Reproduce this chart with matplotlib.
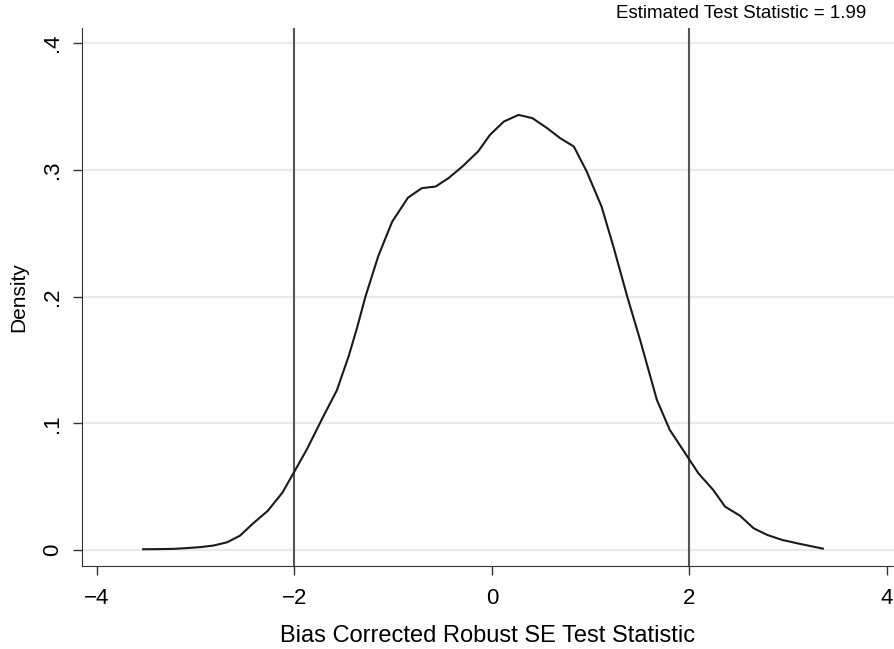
import matplotlib
matplotlib.use("Agg")
import matplotlib.pyplot as plt

plt.rcParams['font.family'] = ['Liberation Sans', 'DejaVu Sans']

# kernel density
stat_x = [-3.53, -3.39, -3.23, -3.09, -2.95, -2.82, -2.68, -2.55, -2.42, -2.27,
          -2.12, -2.00, -1.87, -1.71, -1.57, -1.45, -1.37, -1.28, -1.15, -1.01,
          -0.85, -0.71, -0.57, -0.44, -0.30, -0.14, -0.02, 0.12, 0.27, 0.41,
          0.56, 0.69, 0.83, 0.96, 1.11, 1.23, 1.37, 1.50, 1.67, 1.80,
          1.99, 2.09, 2.24, 2.36, 2.51, 2.65, 2.79, 2.94, 3.12, 3.35]
density = [0.0008, 0.0009, 0.0011, 0.0017, 0.0025, 0.0037, 0.0063, 0.0115, 0.021, 0.031,
           0.0455, 0.062, 0.080, 0.105, 0.126, 0.153, 0.174, 0.200, 0.232, 0.259,
           0.278, 0.2855, 0.2868, 0.2934, 0.3025, 0.3144, 0.3275, 0.338, 0.3433, 0.3407,
           0.3328, 0.325, 0.3183, 0.2986, 0.271, 0.2394, 0.200, 0.1659, 0.1185, 0.095,
           0.0725, 0.0607, 0.0476, 0.0344, 0.0273, 0.0173, 0.012, 0.0081, 0.005, 0.0013]

crit_vals = [-2, 2]
x_ticks = [-4, -2, 0, 2, 4]
x_labels = ['\u22124', '\u22122', '0', '2', '4']
y_ticks = [0, 0.1, 0.2, 0.3, 0.4]
y_labels = ['0', '.1', '.2', '.3', '.4']
note = "Estimated Test Statistic = 1.99"

fig = plt.figure(figsize=(8.94, 6.49), dpi=100)
ax = fig.add_axes([82/894, 83/649, 812/894, 538/649])

for g in y_ticks:
    ax.axhline(g, color='#eaeaea', lw=1.6, zorder=0)
for c in crit_vals:
    ax.axvline(c, color='#555555', lw=1.5, zorder=1)

ax.plot(stat_x, density, color='#1a1a1a', lw=1.5, zorder=2)

ax.set_xlim(-4.149, 4.07)
ax.set_ylim(-0.0124, 0.4118)
ax.set_xticks(x_ticks)
ax.set_xticklabels(x_labels, fontsize=16)
ax.set_yticks(y_ticks)
ax.set_yticklabels(y_labels, fontsize=16, rotation=90, va='center')
ax.tick_params(axis='both', length=6.5, width=1.0, color='#333333')
ax.tick_params(axis='x', pad=9)
ax.tick_params(axis='y', pad=7)

ax.spines['top'].set_visible(False)
ax.spines['right'].set_visible(False)
ax.spines['left'].set_color('#333333')
ax.spines['bottom'].set_color('#333333')

ax.set_xlabel('Bias Corrected Robust SE Test Statistic', fontsize=17, labelpad=12)
ax.set_ylabel('Density', fontsize=15, labelpad=10)
fig.text(866/894, 1 - 14/649, note, fontsize=13.5, ha='right', va='center')

fig.savefig('out.png', dpi=100)
